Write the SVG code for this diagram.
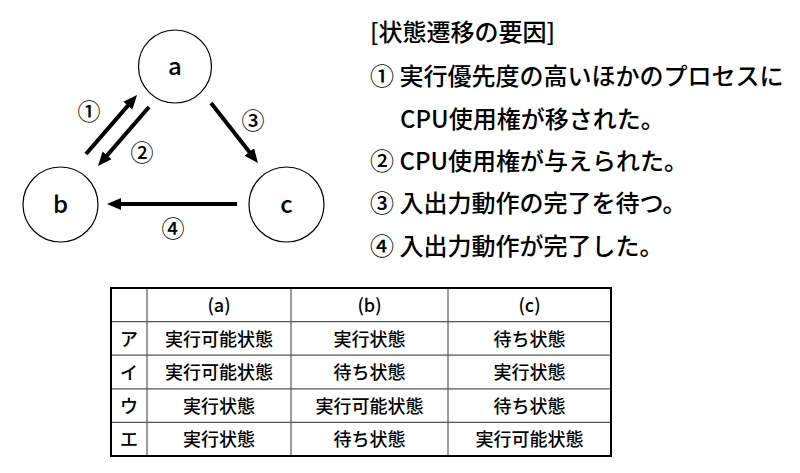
<svg xmlns="http://www.w3.org/2000/svg" width="800" height="473" viewBox="0 0 800 473">
<defs>
<style>
text{font-family:"Noto Sans CJK JP","Noto Sans",sans-serif;fill:#000;font-weight:500}
.node circle{fill:#fff;stroke:#000;stroke-width:1.2}
.lbl{font-size:24px;text-anchor:middle}
.num{font-size:23px;text-anchor:middle}
.conn{stroke:#000;stroke-width:4;fill:none}
.desc{font-size:24px}
.cell{font-size:18px;text-anchor:middle}
.grid{stroke:#555;stroke-width:1.2}
</style>
<marker id="ah" markerUnits="userSpaceOnUse" markerWidth="16" markerHeight="14" refX="4" refY="6" orient="auto">
<path d="M0,0 L14,6 L0,12 z" fill="#000"/>
</marker>
</defs>
<rect width="800" height="473" fill="#fff"/>
<g id="node-a" class="node"><circle cx="175" cy="66.5" r="36.5"/><text class="lbl" x="175" y="75">a</text></g>
<g id="node-b" class="node"><circle cx="60.5" cy="204.5" r="37.5"/><text class="lbl" x="60.5" y="213">b</text></g>
<g id="node-c" class="node"><circle cx="286.5" cy="204.5" r="37.5"/><text class="lbl" x="286.5" y="213">c</text></g>
<g id="connectors">
<path class="conn" d="M86,154 L130.5,102.6" marker-end="url(#ah)"/>
<path class="conn" d="M149,107 L104.5,158.4" marker-end="url(#ah)"/>
<path class="conn" d="M211,103 L251.8,155.1" marker-end="url(#ah)"/>
<path class="conn" d="M237,204 L117,204" marker-end="url(#ah)"/>
<text class="num" x="89" y="120">①</text>
<text class="num" x="142" y="161">②</text>
<text class="num" x="253" y="129">③</text>
<text class="num" x="173" y="237">④</text>
</g>
<g id="legend">
<text class="desc" x="370" y="41">[状態遷移の要因]</text>
<text class="desc" x="370" y="85">① 実行優先度の高いほかのプロセスに</text>
<text class="desc" x="400" y="128">CPU使用権が移された。</text>
<text class="desc" x="370" y="170">② CPU使用権が与えられた。</text>
<text class="desc" x="370" y="212">③ 入出力動作の完了を待つ。</text>
<text class="desc" x="370" y="255">④ 入出力動作が完了した。</text>
</g>
<g id="table">
<g class="grid">
<line x1="111" y1="321.6" x2="611" y2="321.6"/>
<line x1="111" y1="355.2" x2="611" y2="355.2"/>
<line x1="111" y1="388.8" x2="611" y2="388.8"/>
<line x1="111" y1="422.4" x2="611" y2="422.4"/>
<line x1="147" y1="288" x2="147" y2="456"/>
<line x1="291" y1="288" x2="291" y2="456"/>
<line x1="448" y1="288" x2="448" y2="456"/>
</g>
<rect x="111" y="288" width="500" height="168" fill="none" stroke="#000" stroke-width="2"/>
<text class="cell" x="219" y="311.5">(a)</text>
<text class="cell" x="369.5" y="311.5">(b)</text>
<text class="cell" x="529.5" y="311.5">(c)</text>
<text class="cell" x="129" y="345.5">ア</text>
<text class="cell" x="219" y="345.5">実行可能状態</text>
<text class="cell" x="369.5" y="345.5">実行状態</text>
<text class="cell" x="529.5" y="345.5">待ち状態</text>
<text class="cell" x="129" y="379">イ</text>
<text class="cell" x="219" y="379">実行可能状態</text>
<text class="cell" x="369.5" y="379">待ち状態</text>
<text class="cell" x="529.5" y="379">実行状態</text>
<text class="cell" x="129" y="412.5">ウ</text>
<text class="cell" x="219" y="412.5">実行状態</text>
<text class="cell" x="369.5" y="412.5">実行可能状態</text>
<text class="cell" x="529.5" y="412.5">待ち状態</text>
<text class="cell" x="129" y="446">エ</text>
<text class="cell" x="219" y="446">実行状態</text>
<text class="cell" x="369.5" y="446">待ち状態</text>
<text class="cell" x="529.5" y="446">実行可能状態</text>
</g>
</svg>
